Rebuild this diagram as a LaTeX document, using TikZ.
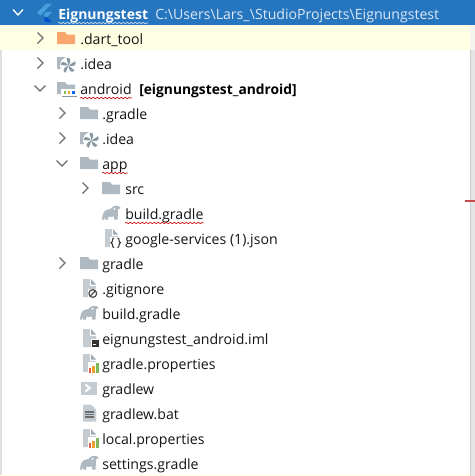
\documentclass[tikz,border=0pt]{standalone}
\usepackage{fontspec}
\setmainfont{Open Sans}
\usetikzlibrary{decorations.pathmorphing}

\definecolor{headblue}{HTML}{2675BF}
\definecolor{rowyellow}{HTML}{FFFFE4}
\definecolor{foldergray}{HTML}{AFB9C1}
\definecolor{pagegray}{HTML}{C4CCD2}
\definecolor{bladegray}{HTML}{8797A2}
\definecolor{darkgray}{HTML}{6E6E6E}
\definecolor{dartorange}{HTML}{F9A66F}
\definecolor{pathwhite}{HTML}{DCE8F5}
\definecolor{barred}{HTML}{E2603A}
\definecolor{barorange}{HTML}{F0A030}
\definecolor{bargreen}{HTML}{7FB75A}

\tikzset{
    rowtext/.style={anchor=base west, inner sep=0pt, font=\fontsize{10.6pt}{12pt}\selectfont, text=black!92},
    squiggle/.style={draw=red!80!black, line width=0.45pt, decorate, decoration={snake, amplitude=0.5pt, segment length=3pt}},
    chevron/.style={draw=darkgray, line width=1pt},
    pics/chevright/.style={code={\draw[chevron] (-2.5,-5.5) -- (3,0) -- (-2.5,5.5);}},
    pics/chevdown/.style={code={\draw[chevron] (-5.5,-2.5) -- (0,3) -- (5.5,-2.5);}},
    pics/foldershape/.style={code={
        \fill[#1] (0,-6) -- (8,-6) -- (10,-3.5) -- (18,-3.5) -- (18,6) -- (0,6) -- cycle;}},
    pics/foldericon/.style={code={\pic {foldershape=foldergray};}},
    pics/ideaicon/.style={code={
        \pic {foldershape=foldergray};
        \fill[white] (11.5,2.5) circle (8.5);
        \foreach \a in {0,72,...,288}
            \fill[bladegray, rotate around={\a:(11.5,2.5)}] (11.5,2.5) -- (9.5,-5) .. controls (13,-6) and (15,-3) .. (11.5,2.5);}},
    pics/moduleicon/.style={code={
        \pic {foldershape=foldergray};
        \fill[white] (4,1) rectangle (20,9);
        \fill[bladegray] (5,7.6) rectangle (19.5,8.6);
        \fill[bargreen] (6.5,3) rectangle (9,5.5);
        \fill[barorange] (10.8,3) rectangle (13.3,5.5);
        \fill[blue!60!cyan] (15,3) rectangle (17.5,5.5);}},
    pics/elephanticon/.style={code={
        \fill[foldergray] (0,6.5) .. controls (0.5,1.5) and (1.5,-3) .. (6,-3.5)
            .. controls (8,-3.5) and (9,-4) .. (10,-5.5) .. controls (12,-7.5) and (16,-8) .. (18.5,-5.5)
            -- (17.5,-4) .. controls (16.5,-5) and (15.5,-4.5) .. (16,-2)
            .. controls (16.5,0) and (15.5,2) .. (15.5,6.5) -- (12,6.5) -- (12,3.5)
            .. controls (10,4) and (8,4) .. (6.5,3.5) -- (6,6.5) -- (3,6.5) -- (2.7,3.5) -- (1.8,6.5) -- cycle;
        \fill[white] (12.5,-4.2) circle (1);}},
    pics/pageshape/.style={code={
        \fill[pagegray] (0,-9) -- (7.5,-9) -- (13,-3.5) -- (13,9) -- (0,9) -- cycle;
        \fill[white] (7,-9.5) -- (7,-2.5) -- (13.5,-2.5) -- (13.5,-9.5) -- cycle;
        \fill[bladegray!80] (8,-9) -- (8,-3.5) -- (13,-3.5) -- cycle;}},
    pics/jsonicon/.style={code={
        \pic {pageshape};
        \fill[white] (4.5,-1.5) rectangle (18,10.5);
        \draw[black!80, line width=0.8pt] (9,0) .. controls (6.5,0) and (8.5,4) .. (6,4.7) .. controls (8.5,5.4) and (6.5,9.5) .. (9,9.5);
        \draw[black!80, line width=0.8pt] (12.5,0) .. controls (15,0) and (13,4) .. (15.5,4.7) .. controls (13,5.4) and (15,9.5) .. (12.5,9.5);}},
    pics/ignoreicon/.style={code={
        \pic {pageshape};
        \fill[white] (4.5,1) rectangle (15.5,10.5);
        \draw[black!70, line width=0.9pt] (9.8,5.5) circle (3.9) (7.1,8.3) -- (12.5,2.7);}},
    pics/imlicon/.style={code={
        \pic {pageshape};
        \fill[white] (7.5,0.5) rectangle (17,9.5);
        \fill[black!80] (8.5,1.5) rectangle (16,9);
        \fill[white] (10,5.5) rectangle (13,6.3);}},
    pics/propicon/.style={code={
        \pic {pageshape};
        \fill[white] (5,-1) rectangle (17,10.5);
        \fill[barred] (6,5) rectangle (8,10);
        \fill[barorange] (9,3) rectangle (11.5,10);
        \fill[bargreen] (13,0) rectangle (16,10);}},
    pics/shellicon/.style={code={
        \fill[pagegray] (0,-6.5) rectangle (16,6.5);
        \draw[white, line width=1.6pt] (4.5,-3.5) -- (8.5,0) -- (4.5,3.5);}},
    pics/baticon/.style={code={
        \fill[pagegray] (0,-8.5) -- (8,-8.5) -- (13,-3.5) -- (13,8.5) -- (0,8.5) -- cycle;
        \foreach \l in {-1,1.5,4}
            \draw[darkgray, line width=1pt] (2,\l) -- (11,\l);}},
    pics/fluttericon/.style={code={
        \fill[cyan!70!blue!75] (9,-9.5) -- (15,-9.5) -- (3.5,2.5) -- (0,-0.5) -- cycle;
        \fill[cyan!70!blue!75] (9,-1) -- (15,-1) -- (9.5,4.5) -- (6.5,2) -- cycle;
        \fill[blue!60!cyan!80!black] (6.5,6) -- (9.5,4) -- (15,9) -- (9,9) -- cycle;}},
}

\begin{document}
\begin{tikzpicture}[x=0.75pt, y=-0.75pt]
    \useasboundingbox (0,0) rectangle (475,476);
    % row bands and the scrollbar edge
    \fill[white] (0,0) rectangle (475,476);
    \fill[black!10] (470,25) rectangle (475,476);
    \fill[black!20] (470,25) rectangle (471,476);
    \fill[rowyellow] (0,25) rectangle (470,50);
    \fill[rowyellow!80!black!20] (470,25) rectangle (475,50);
    \fill[black!12] (0,50) rectangle (2,476);
    \fill[headblue] (0,0) rectangle (475,25);
    \fill[rowyellow] (0,475) rectangle (470,476);
    \fill[red!70!black!70] (465,200) rectangle (475,202);

    % chevrons
    \foreach \px/\py in {40/38, 40/63, 62/113, 62/138, 85/188, 62/263}
        \pic at (\px,\py) {chevright};
    \foreach \px/\py in {40/88, 62/163}
        \pic at (\px,\py) {chevdown};
    \draw[white, line width=1pt] (13,9.5) -- (18,15) -- (23,9.5);

    % icons
    \pic at (37,13) {fluttericon};
    \pic at (57,38) {foldershape=dartorange};
    \pic at (57,63) {ideaicon};
    \pic at (57,88) {moduleicon};
    \pic at (80,113) {foldericon};
    \pic at (80,138) {ideaicon};
    \pic at (80,163) {foldericon};
    \pic at (102,188) {foldericon};
    \pic at (102,213) {elephanticon};
    \pic at (105,238) {jsonicon};
    \pic at (80,263) {foldericon};
    \pic at (83,288) {ignoreicon};
    \pic at (80,313) {elephanticon};
    \pic at (83,338) {imlicon};
    \pic at (83,363) {propicon};
    \pic at (81,388) {shellicon};
    \pic at (83,413) {baticon};
    \pic at (83,438) {propicon};
    \pic at (80,463) {elephanticon};

    % labels
    \node[rowtext, text=white, font=\fontsize{10.5pt}{12pt}\selectfont\bfseries] (root) at (58,19) {Eignungstest};
    \node[rowtext, text=pathwhite] (rootpath) at (155,19) {C:\textbackslash Users\textbackslash Lars\_\textbackslash StudioProjects\textbackslash Eignungstest};
    \node[rowtext] (dart) at (80,44) {.dart\_tool};
    \node[rowtext] (idea) at (80,69) {.idea};
    \node[rowtext] (android) at (80,94) {android};
    \node[rowtext, font=\fontsize{10.35pt}{12pt}\selectfont\bfseries, text=black] (module) at (139,94) {[eignungstest\_android]};
    \node[rowtext] (dotgradle) at (102,119) {.gradle};
    \node[rowtext] (subidea) at (102,144) {.idea};
    \node[rowtext] (app) at (102,169) {app};
    \node[rowtext] (src) at (125,194) {src};
    \node[rowtext] (appbuild) at (125,219) {build.gradle};
    \node[rowtext] (google) at (125,244) {google-services (1).json};
    \node[rowtext] (gradle) at (102,269) {gradle};
    \node[rowtext] (ignore) at (102,294) {.gitignore};
    \node[rowtext] (build) at (102,319) {build.gradle};
    \node[rowtext] (iml) at (102,344) {eignungstest\_android.iml};
    \node[rowtext] (gradleprops) at (102,369) {gradle.properties};
    \node[rowtext] (gradlew) at (102,394) {gradlew};
    \node[rowtext] (gradlewbat) at (102,419) {gradlew.bat};
    \node[rowtext] (localprops) at (102,444) {local.properties};
    \node[rowtext] (settings) at (102,469) {settings.gradle};

    % typo marks
    \draw[squiggle, draw=pathwhite] ([yshift=-3pt]root.base west) -- ([yshift=-3pt]root.base east);
    \foreach \word in {android, app, appbuild}
        \draw[squiggle] ([yshift=-3pt]\word.base west) -- ([yshift=-3pt]\word.base east);
\end{tikzpicture}
\end{document}
